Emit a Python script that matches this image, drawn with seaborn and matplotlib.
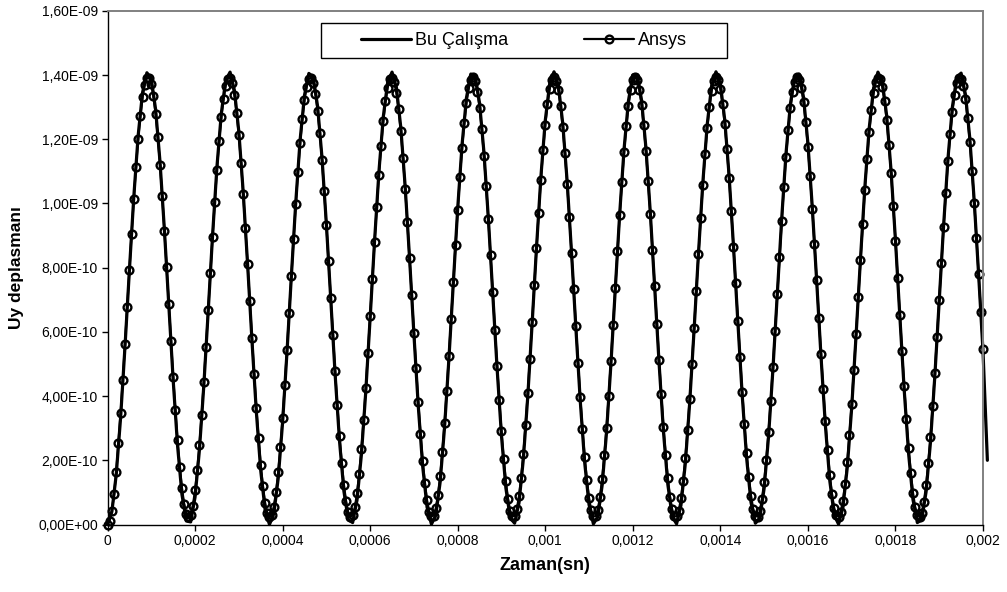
import numpy as np
import pandas as pd
import matplotlib
matplotlib.use("Agg")
import matplotlib.pyplot as plt
from matplotlib.lines import Line2D
from matplotlib.patches import Rectangle
import seaborn as sns

# ---------------- data (values in units of 1e-9) ----------------
ansys_dt = 5e-6   # time step of the Ansys samples (s)
bu_dt = 1e-5      # time step of the "Bu Çalışma" samples (s)

uy_ansys = [
    0.000, 0.012, 0.043, 0.094, 0.165, 0.255, 0.348, 0.451, 0.562, 0.677, 0.792, 0.906, 1.013, 1.112, 1.200, 1.273, 1.330, 1.370, 1.390,
    1.391, 1.372, 1.334, 1.278, 1.206, 1.120, 1.022, 0.915, 0.802, 0.686, 0.571, 0.460, 0.356, 0.262, 0.180, 0.114, 0.065, 0.034,
    0.023, 0.031, 0.059, 0.106, 0.169, 0.248, 0.340, 0.443, 0.553, 0.667, 0.783, 0.897, 1.005, 1.105, 1.194, 1.268, 1.326, 1.367, 1.389,
    1.392, 1.374, 1.337, 1.283, 1.212, 1.127, 1.030, 0.923, 0.811, 0.695, 0.580, 0.468, 0.364, 0.269, 0.186, 0.119, 0.068, 0.036,
    0.024, 0.030, 0.056, 0.101, 0.163, 0.241, 0.332, 0.434, 0.544, 0.658, 0.774, 0.888, 0.997, 1.097, 1.187, 1.262, 1.322, 1.364, 1.388,
    1.392, 1.376, 1.341, 1.288, 1.219, 1.134, 1.038, 0.932, 0.820, 0.705, 0.589, 0.477, 0.372, 0.276, 0.193, 0.124, 0.072, 0.038,
    0.024, 0.029, 0.053, 0.097, 0.158, 0.234, 0.324, 0.425, 0.535, 0.649, 0.765, 0.879, 0.988, 1.090, 1.180, 1.257, 1.318, 1.361, 1.387,
    1.392, 1.378, 1.345, 1.293, 1.225, 1.142, 1.046, 0.941, 0.829, 0.714, 0.598, 0.486, 0.380, 0.283, 0.199, 0.129, 0.075, 0.040,
    0.025, 0.028, 0.051, 0.093, 0.152, 0.227, 0.317, 0.417, 0.526, 0.640, 0.756, 0.870, 0.980, 1.082, 1.173, 1.251, 1.314, 1.359, 1.386,
    1.393, 1.380, 1.348, 1.298, 1.231, 1.149, 1.054, 0.950, 0.838, 0.723, 0.607, 0.495, 0.388, 0.291, 0.205, 0.134, 0.079, 0.042,
    0.025, 0.027, 0.048, 0.088, 0.146, 0.221, 0.309, 0.409, 0.517, 0.630, 0.746, 0.861, 0.971, 1.074, 1.166, 1.245, 1.309, 1.356, 1.384,
    1.393, 1.382, 1.352, 1.303, 1.237, 1.156, 1.062, 0.958, 0.847, 0.732, 0.617, 0.504, 0.396, 0.298, 0.211, 0.139, 0.083, 0.044,
    0.025, 0.026, 0.046, 0.085, 0.142, 0.215, 0.302, 0.400, 0.508, 0.621, 0.737, 0.852, 0.963, 1.066, 1.159, 1.240, 1.305, 1.353, 1.383,
    1.393, 1.384, 1.354, 1.307, 1.243, 1.163, 1.070, 0.967, 0.856, 0.742, 0.626, 0.512, 0.405, 0.305, 0.218, 0.144, 0.086, 0.047,
    0.026, 0.025, 0.043, 0.081, 0.137, 0.208, 0.294, 0.392, 0.499, 0.612, 0.728, 0.843, 0.954, 1.058, 1.153, 1.234, 1.301, 1.350, 1.381,
    1.393, 1.385, 1.357, 1.311, 1.248, 1.170, 1.078, 0.976, 0.865, 0.751, 0.635, 0.521, 0.413, 0.313, 0.224, 0.149, 0.090, 0.049,
    0.028, 0.024, 0.041, 0.078, 0.132, 0.202, 0.287, 0.384, 0.490, 0.603, 0.718, 0.834, 0.946, 1.051, 1.146, 1.228, 1.296, 1.346, 1.379,
    1.393, 1.386, 1.360, 1.316, 1.254, 1.177, 1.086, 0.984, 0.875, 0.760, 0.644, 0.530, 0.421, 0.321, 0.231, 0.155, 0.094, 0.052,
    0.029, 0.024, 0.039, 0.074, 0.127, 0.196, 0.280, 0.376, 0.481, 0.594, 0.709, 0.825, 0.937, 1.042, 1.138, 1.222, 1.291, 1.343, 1.377,
    1.392, 1.388, 1.363, 1.320, 1.260, 1.183, 1.094, 0.993, 0.884, 0.769, 0.654, 0.539, 0.430, 0.328, 0.238, 0.161, 0.099, 0.055,
    0.029, 0.023, 0.037, 0.071, 0.122, 0.190, 0.272, 0.368, 0.473, 0.585, 0.700, 0.815, 0.928, 1.034, 1.131, 1.215, 1.286, 1.339, 1.375,
    1.392, 1.389, 1.366, 1.324, 1.265, 1.190, 1.101, 1.001, 0.893, 0.779, 0.663, 0.548,
]

uy_bu = [
    0.000, 0.040, 0.156, 0.334, 0.555, 0.791, 1.019, 1.211, 1.345, 1.407, 1.388, 1.292, 1.129, 0.918, 0.682, 0.450, 0.246, 0.094, 0.011,
    0.008, 0.085, 0.232, 0.432, 0.663, 0.900, 1.114, 1.281, 1.383, 1.409, 1.352, 1.224, 1.036, 0.811, 0.573, 0.351, 0.168, 0.046,
    0.000, 0.034, 0.144, 0.318, 0.536, 0.773, 1.002, 1.198, 1.337, 1.405, 1.393, 1.302, 1.143, 0.936, 0.702, 0.467, 0.260, 0.104, 0.015,
    0.006, 0.076, 0.217, 0.414, 0.644, 0.881, 1.098, 1.270, 1.377, 1.409, 1.361, 1.237, 1.053, 0.830, 0.592, 0.367, 0.181, 0.054,
    0.001, 0.029, 0.133, 0.303, 0.518, 0.754, 0.985, 1.184, 1.329, 1.403, 1.397, 1.312, 1.159, 0.954, 0.720, 0.486, 0.276, 0.114, 0.020,
    0.004, 0.067, 0.204, 0.397, 0.625, 0.862, 1.082, 1.258, 1.372, 1.410, 1.368, 1.249, 1.069, 0.848, 0.611, 0.384, 0.194, 0.062,
    0.002, 0.024, 0.122, 0.287, 0.499, 0.735, 0.967, 1.169, 1.319, 1.400, 1.401, 1.322, 1.173, 0.972, 0.740, 0.503, 0.290, 0.125, 0.025,
    0.002, 0.060, 0.190, 0.380, 0.606, 0.844, 1.065, 1.246, 1.366, 1.410, 1.373, 1.261, 1.086, 0.867, 0.630, 0.401, 0.207, 0.069,
    0.004, 0.019, 0.112, 0.272, 0.481, 0.715, 0.950, 1.156, 1.310, 1.396, 1.403, 1.331, 1.188, 0.989, 0.759, 0.522, 0.307, 0.136, 0.030,
    0.001, 0.053, 0.178, 0.363, 0.588, 0.825, 1.049, 1.234, 1.359, 1.409, 1.379, 1.273, 1.102, 0.886, 0.649, 0.419, 0.221, 0.078,
    0.006, 0.015, 0.102, 0.256, 0.463, 0.697, 0.931, 1.140, 1.300, 1.392, 1.406, 1.339, 1.201, 1.007, 0.778, 0.540, 0.200,
]

series_names = ["Bu Çalışma", "Ansys"]
x_ticks = [0, 0.0002, 0.0004, 0.0006, 0.0008, 0.001, 0.0012, 0.0014, 0.0016, 0.0018, 0.002]
x_tick_labels = ["0", "0,0002", "0,0004", "0,0006", "0,0008", "0,001", "0,0012",
                 "0,0014", "0,0016", "0,0018", "0,002"]
y_ticks = [0, 2e-10, 4e-10, 6e-10, 8e-10, 1e-9, 1.2e-9, 1.4e-9, 1.6e-9]
y_tick_labels = ["0,00E+00", "2,00E-10", "4,00E-10", "6,00E-10", "8,00E-10",
                 "1,00E-09", "1,20E-09", "1,40E-09", "1,60E-09"]
x_label = "Zaman(sn)"
y_label = "Uy deplasmanı"

# ---------------- build frames ----------------
df_an = pd.DataFrame({"t": np.arange(len(uy_ansys)) * ansys_dt,
                      "uy": np.array(uy_ansys) * 1e-9})
df_bu = pd.DataFrame({"t": np.arange(len(uy_bu)) * bu_dt,
                      "uy": np.array(uy_bu) * 1e-9})

# ---------------- style ----------------
sns.set_theme(style="ticks", rc={"text.color": "black", "axes.labelcolor": "black",
                                 "xtick.color": "black", "ytick.color": "black"})
plt.rcParams["font.family"] = ["Liberation Sans", "DejaVu Sans"]

W, H = 1007, 592
fig = plt.figure(figsize=(W / 100, H / 100), dpi=100, facecolor="white")
L, R, T, B = 107.5, 983.0, 10.8, 524.5
ax = fig.add_axes([L / W, 1 - B / H, (R - L) / W, (B - T) / H])
ax.set_facecolor("white")

LW_BU, LW_AN, MS, MEW = 2.3, 1.6, 5.6, 1.7

sns.lineplot(data=df_bu, x="t", y="uy", ax=ax, color="black", linewidth=LW_BU,
             clip_on=False, legend=False, sort=False)
sns.lineplot(data=df_an, x="t", y="uy", ax=ax, color="black", linewidth=LW_AN,
             marker="o", markersize=MS, markerfacecolor="none",
             markeredgecolor="black", markeredgewidth=MEW,
             clip_on=False, legend=False, sort=False)

ax.set_xlim(0, 0.002)
ax.set_ylim(0, 1.6e-9)
ax.set_xticks(x_ticks)
ax.set_xticklabels(x_tick_labels)
ax.set_yticks(y_ticks)
ax.set_yticklabels(y_tick_labels)
ax.set_xlabel("")
ax.set_ylabel("")
ax.tick_params(axis="both", direction="out", length=4, width=1, labelsize=10,
               colors="black", pad=3)

for s in ["left", "bottom"]:
    ax.spines[s].set_color("black")
    ax.spines[s].set_linewidth(1.0)
for s in ["top", "right"]:
    ax.spines[s].set_visible(True)
    ax.spines[s].set_color("#808080")
    ax.spines[s].set_linewidth(1.4)

fig.text(17 / W, 1 - 268 / H, y_label, rotation=90, ha="center", va="center",
         fontsize=12.5, fontweight="bold")
fig.text(545 / W, 1 - 566 / H, x_label, ha="center", va="center",
         fontsize=13, fontweight="bold")

# legend
handles = [Line2D([], [], color="black", lw=LW_BU),
           Line2D([], [], color="black", lw=LW_AN, marker="o", markersize=MS,
                  markerfacecolor="none", markeredgecolor="black", markeredgewidth=MEW)]
fig.legend(handles, series_names, loc="center",
           bbox_to_anchor=(523.7 / W, 1 - 40.5 / H), ncol=2, frameon=False,
           fontsize=13, handlelength=2.8, handletextpad=0.2, columnspacing=4.2)
fig.patches.append(Rectangle((320.7 / W, 1 - 57.5 / H), (726.7 - 320.7) / W,
                             (57.5 - 22.7) / H, transform=fig.transFigure,
                             fill=False, edgecolor="black", linewidth=1.0))

fig.savefig("out.png", dpi=100, facecolor="white")
